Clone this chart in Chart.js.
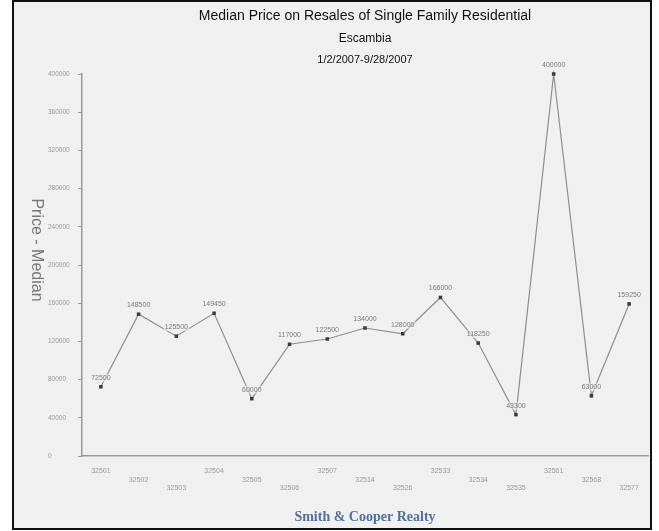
<!DOCTYPE html>
<html>
<head>
<meta charset="utf-8">
<script src="https://cdn.jsdelivr.net/npm/chart.js@4/dist/chart.umd.min.js"></script>
<style>
  html, body { margin: 0; padding: 0; background: #fff; }
  #wrap { position: absolute; left: 0; top: 0; width: 659px; height: 531px; }
</style>
</head>
<body>
<div id="wrap"><canvas id="chart"></canvas></div>
<script>
// zip codes and median resale prices
const zipCodes = ['32501', '32502', '32503', '32504', '32505', '32506', '32507', '32514',
                  '32526', '32533', '32534', '32535', '32561', '32568', '32577'];
const medianPrice = [72500, 148500, 125500, 149450, 60000, 117000, 122500, 134000,
                     128000, 166000, 118250, 43300, 400000, 63000, 159250];
const yTicks = [0, 40000, 80000, 120000, 160000, 200000, 240000, 280000, 320000, 360000, 400000];

const titleText = 'Median Price on Resales of Single Family Residential';
const subTitle = 'Escambia';
const dateRange = '1/2/2007-9/28/2007';
const footerText = 'Smith & Cooper Realty';
const yTitle = 'Price - Median';

// frame, titles, footer, rotated y title and point labels
const decor = {
  id: 'decor',
  beforeDraw(c) {
    const ctx = c.ctx;
    ctx.save();
    ctx.fillStyle = '#ffffff';
    ctx.fillRect(0, 0, c.width, c.height);
    ctx.fillStyle = '#f0f0f0';
    ctx.fillRect(12, 0, 640, 530);
    ctx.strokeStyle = '#111';
    ctx.lineWidth = 2;
    ctx.strokeRect(13, 1, 638, 528);
    ctx.restore();
  },
  afterDraw(c) {
    const ctx = c.ctx;
    const cx = (c.chartArea.left + c.chartArea.right) / 2;
    ctx.save();
    ctx.textAlign = 'center';
    ctx.textBaseline = 'middle';
    ctx.fillStyle = '#111';
    ctx.font = '14px Arial, "Liberation Sans", sans-serif';
    ctx.fillText(titleText, cx, 16);
    ctx.font = '12px Arial, "Liberation Sans", sans-serif';
    ctx.fillText(subTitle, cx, 39);
    ctx.font = '11px Arial, "Liberation Sans", sans-serif';
    ctx.fillText(dateRange, cx, 60);

    ctx.fillStyle = '#52709a';
    ctx.font = 'bold 14px "Liberation Serif", "DejaVu Serif", serif';
    ctx.fillText(footerText, cx, 517);

    ctx.save();
    ctx.translate(36, 250);
    ctx.rotate(Math.PI / 2);
    ctx.fillStyle = '#777';
    ctx.font = '16px Arial, "Liberation Sans", sans-serif';
    ctx.fillText(yTitle, 0, 0);
    ctx.restore();

    // value labels above each point
    const meta = c.getDatasetMeta(0);
    ctx.font = '7px Arial, "Liberation Sans", sans-serif';
    meta.data.forEach((pt, i) => {
      const txt = String(medianPrice[i]);
      const w = ctx.measureText(txt).width;
      ctx.fillStyle = 'rgba(240,240,240,0.6)';
      ctx.fillRect(pt.x - w / 2 - 1, pt.y - 13, w + 2, 8);
      ctx.fillStyle = '#7a7a7a';
      ctx.fillText(txt, pt.x, pt.y - 9);
    });
    ctx.restore();
  }
};

new Chart(document.getElementById('chart'), {
  type: 'line',
  data: {
    labels: zipCodes,
    datasets: [{
      data: medianPrice,
      borderColor: '#8f8f8f',
      borderWidth: 1.2,
      pointStyle: 'rect',
      pointRadius: 2.5,
      pointBackgroundColor: '#3a3a3a',
      pointBorderColor: '#3a3a3a',
      pointBorderWidth: 0,
      tension: 0,
      clip: false
    }]
  },
  options: {
    responsive: true,
    maintainAspectRatio: false,
    animation: false,
    devicePixelRatio: 1,
    layout: { padding: { left: 48, right: 11, top: 74, bottom: 0 } },
    plugins: {
      legend: { display: false },
      tooltip: { enabled: false }
    },
    scales: {
      x: {
        offset: true,
        afterFit(s) { s.height = 75; },
        grid: { display: false },
        border: { display: true, color: '#999', width: 1.5 },
        ticks: {
          autoSkip: false,
          maxRotation: 0,
          padding: 3,
          color: '#999',
          font: { size: 7, family: 'Arial, "Liberation Sans", sans-serif', lineHeight: 1.2 },
          callback(v, i) {
            const row = i % 3;
            const out = [];
            for (let k = 0; k < row; k++) out.push('');
            out.push(zipCodes[i]);
            return out;
          }
        }
      },
      y: {
        min: 0,
        max: 400000,
        afterFit(s) { s.width = 34; },
        afterBuildTicks(s) { s.ticks = yTicks.map(v => ({ value: v })); },
        grid: { drawOnChartArea: false, drawTicks: true, tickLength: 4, color: '#999' },
        border: { display: true, color: '#999', width: 1.5 },
        ticks: {
          crossAlign: 'far',
          color: '#999',
          font: { size: 6.5, family: 'Arial, "Liberation Sans", sans-serif' },
          callback: v => String(v)
        }
      }
    }
  },
  plugins: [decor]
});
</script>
</body>
</html>
